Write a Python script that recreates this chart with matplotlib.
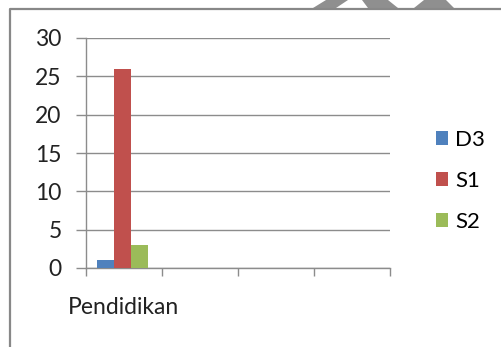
import numpy as np
import matplotlib.pyplot as plt
from matplotlib.lines import Line2D
from matplotlib.patches import Polygon

# Data
slots = ["Pendidikan", "", "", ""]
series = ["D3", "S1", "S2"]
d3 = [1]
s1 = [26]
s2 = [3]
colors = ["#4F81BD", "#C0504D", "#9BBB59"]
yticks = [0, 5, 10, 15, 20, 25, 30]

plt.rcParams['font.family'] = ['Lato', 'DejaVu Sans']

W, H = 502, 347
fig = plt.figure(figsize=(W / 100, H / 100), dpi=100)

def fx(px):
    return px / W

def fy(py):
    return 1 - py / H

ax = fig.add_axes([fx(86), fy(268), fx(390) - fx(86), fy(38) - fy(268)])

grey = "#8c8c8c"
width = 0.22
x = np.arange(len(d3)) + 0.48
for i, (vals, name) in enumerate(zip([d3, s1, s2], series)):
    ax.bar(x + (i - 1) * width, vals, width, color=colors[i], label=name, zorder=3)

ax.set_xlim(0, len(slots))
ax.set_ylim(0, 30)
ax.set_yticks(yticks)
ax.set_yticklabels([str(v) for v in yticks], fontsize=16.5, color="#222222")
ax.yaxis.grid(True, color=grey, linewidth=1.0, zorder=0)

# category boundaries as ticks, labels in the middle of each slot
ax.set_xticks(np.arange(len(slots) + 1))
ax.set_xticklabels([])
ax.set_xticks(np.arange(len(slots)) + 0.5, minor=True)
ax.set_xticklabels(slots, minor=True, fontsize=16.5, color="#222222")
ax.tick_params(axis='x', which='minor', length=0, pad=21)
ax.tick_params(axis='x', which='major', length=6, color=grey, width=1)
ax.tick_params(axis='y', length=7, color=grey, width=1, pad=10.5)

for side in ["top", "right"]:
    ax.spines[side].set_visible(False)
for side in ["left", "bottom"]:
    ax.spines[side].set_color(grey)
    ax.spines[side].set_linewidth(1.0)

fig.legend(loc="center left", bbox_to_anchor=(fx(436), fy(181)),
           frameon=False, fontsize=16, handlelength=0.56, handleheight=0.56,
           handletextpad=0.3, labelspacing=0.95, borderpad=0, borderaxespad=0)

# chart frame
fig.add_artist(Line2D([fx(9.5), fx(9.5), 1.0], [0, fy(8.5), fy(8.5)],
                      color="#888888", linewidth=1.6, transform=fig.transFigure))

# faint shapes above the frame
shapes = [
    [(313, 8), (336, 8), (348, 0), (326, 0)],
    [(368, 8), (398, 8), (388, 0), (362, 0)],
    [(414, 8), (454, 8), (446, 0), (424, 0)],
]
for pts in shapes:
    fig.add_artist(Polygon([(fx(a), fy(b)) for a, b in pts], closed=True,
                           facecolor="#8f8f8f", edgecolor="none",
                           transform=fig.transFigure))

fig.savefig("out.png", dpi=100)
